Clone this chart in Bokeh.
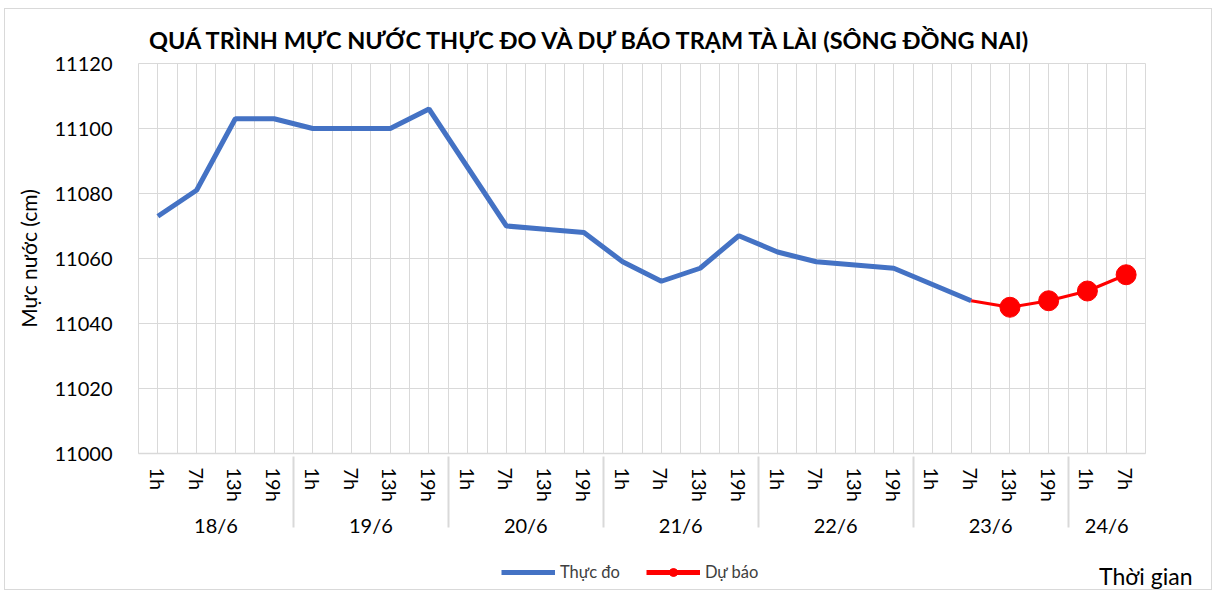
from bokeh.plotting import figure
from bokeh.models import (FactorRange, Range1d, FixedTicker, SingleIntervalTicker,
                          Legend, LegendItem, Title, Label)
from bokeh.embed import file_html
from bokeh.resources import INLINE

# ---- data ----
days = ["18/6", "19/6", "20/6", "21/6", "22/6", "23/6", "24/6"]
hours = [["1h", "7h", "13h", "19h"]] * 6 + [["1h", "7h"]]
observed = [11073, 11081, 11103, 11103,
            11100, 11100, 11100, 11106,
            11088, 11070, 11069, 11068,
            11059, 11053, 11057, 11067,
            11062, 11059, 11058, 11057,
            11052, 11047]
forecast = [11047, 11045, 11047, 11050, 11055]
series_names = ["Thực đo", "Dự báo"]

factors = [(d, h) for d, hs in zip(days, hours) for h in hs]
obs_x = factors[:len(observed)]
fc_x = factors[len(observed) - 1:]

FONT = "Lato"
BLUE = "#4472C4"
RED = "#FF0000"
GRID = "#D9D9D9"
EDGE = "1px solid #D9D9D9"

xr = FactorRange(*factors, group_padding=0, factor_padding=0, range_padding=0)

p = figure(width=1208, height=545, output_backend="svg", toolbar_location=None,
           x_range=xr, y_range=Range1d(11000, 11120),
           min_border_left=133, min_border_right=68, min_border_top=54, min_border_bottom=101)
p.styles = {"border-top": EDGE, "border-left": EDGE, "border-right": EDGE,
            "margin": "8px 0 0 4px"}
p.outline_line_color = GRID
p.background_fill_color = "white"
p.border_fill_color = "white"

p.title = Title(text="QUÁ TRÌNH MỰC NƯỚC THỰC ĐO VÀ DỰ BÁO TRẠM TÀ LÀI (SÔNG ĐỒNG NAI)",
                align="left", offset=10.5, standoff=20,
                text_font=FONT, text_font_size="23.5px", text_font_style="bold",
                text_color="#000000")

# grid
p.ygrid.grid_line_color = GRID
p.xgrid.grid_line_color = GRID
p.xgrid.ticker = FixedTicker(ticks=[i * 0.5 for i in range(2 * len(factors) + 1)])

# y axis
p.yaxis.ticker = SingleIntervalTicker(interval=20, num_minor_ticks=0)
p.yaxis.axis_line_color = None
p.yaxis.major_tick_line_color = None
p.yaxis.minor_tick_line_color = None
p.yaxis.major_label_standoff = 20
p.yaxis.major_label_text_font = FONT
p.yaxis.major_label_text_font_size = "20px"
p.yaxis.major_label_text_color = "#000000"
p.yaxis.axis_label = "Mực nước (cm)"
p.yaxis.axis_label_standoff = 11
p.yaxis.axis_label_text_font = FONT
p.yaxis.axis_label_text_font_size = "21px"
p.yaxis.axis_label_text_font_style = "normal"
p.yaxis.axis_label_text_color = "#000000"

# x axis
xa = p.xaxis[0]
xa.axis_line_color = GRID
xa.axis_line_width = 1.5
xa.major_tick_line_color = None
xa.minor_tick_line_color = None
xa.major_label_orientation = "vertical"
xa.major_label_standoff = 8
xa.major_label_text_font = FONT
xa.major_label_text_font_size = "20px"
xa.major_label_text_color = "#000000"
xa.group_text_font = FONT
xa.group_text_font_size = "20px"
xa.group_text_color = "#000000"
xa.group_text_font_style = "normal"
xa.separator_line_color = GRID
xa.separator_line_width = 2

# series
p.line(x=obs_x, y=observed, line_color=BLUE, line_width=5)
p.line(x=fc_x, y=forecast, line_color=RED, line_width=3)
p.scatter(x=fc_x[1:], y=forecast[1:], size=20, fill_color=RED, line_color=RED)

# ---- strip below the axis: legend + x-axis title ----
# same series, drawn in a strip whose y range lies outside the data (clipped away),
# so that only their legend entries show
p2 = figure(width=1208, height=37, output_backend="svg", toolbar_location=None,
            x_range=xr, y_range=Range1d(0, 1),
            x_axis_location=None, y_axis_location=None, min_border=0)
p2.styles = {"border-bottom": EDGE, "border-left": EDGE, "border-right": EDGE,
             "margin": "0 0 0 4px"}
p2.outline_line_color = None
p2.grid.visible = False
p2.background_fill_color = "white"
p2.border_fill_color = "white"
leg_obs = p2.line(x=obs_x, y=observed, line_color=BLUE, line_width=5)
leg_fc = p2.line(x=fc_x, y=forecast, line_color=RED, line_width=5)
leg_fc_m = p2.scatter(x=fc_x[1:], y=forecast[1:], size=8, fill_color=RED, line_color=RED)

legend = Legend(items=[LegendItem(label=series_names[0], renderers=[leg_obs]),
                       LegendItem(label=series_names[1], renderers=[leg_fc, leg_fc_m])],
                orientation="horizontal", location=(496, 8),
                label_text_font=FONT, label_text_font_size="16.5px",
                label_text_color="#404040", glyph_width=54, label_standoff=5,
                spacing=26, border_line_color=None, background_fill_alpha=0,
                padding=2, margin=0)
p2.add_layout(legend, "center")

p2.add_layout(Label(x=1187, y=15, x_units="screen", y_units="screen",
                    text="Thời gian", text_align="right", text_baseline="middle",
                    text_font=FONT, text_font_size="23px", text_color="#000000"))

open("out.html", "w").write(file_html([p, p2], INLINE))
